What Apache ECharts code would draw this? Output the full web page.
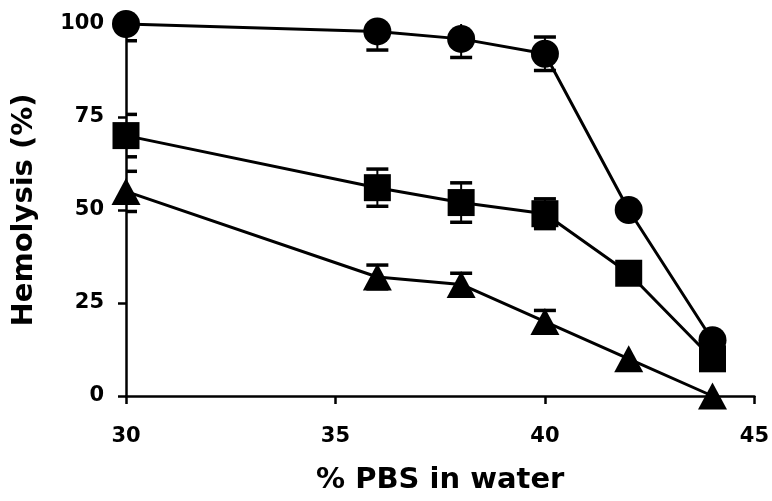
<!DOCTYPE html>
<html>
<head>
<meta charset="utf-8">
<script src="https://cdn.jsdelivr.net/npm/echarts@6/dist/echarts.min.js"></script>
<style>html,body{margin:0;padding:0;background:#fff}#c{width:772px;height:501px}</style>
</head>
<body>
<div id="c"></div>
<script>
var xValues = [30, 36, 38, 40, 42, 44];
var circleY = [100, 98, 96, 92, 50, 15];
var circleErr = [4.5, 5, 5, 4.5, 0, 0];
var squareY = [70, 56, 52, 49, 33, 10];
var squareErr = [5.7, 5, 5.3, 4, 0, 0];
var triangleY = [55, 32, 30, 20, 10, 0];
var triangleErr = [5.4, 3.2, 3, 3, 0, 0];
var xTicks = [30, 35, 40, 45];
var yTicks = [0, 25, 50, 75, 100];

function pts(ys) { return xValues.map(function (x, i) { return [x, ys[i]]; }); }
function errPts(ys, es) {
  var out = [];
  xValues.forEach(function (x, i) { if (es[i] > 0) out.push([x, ys[i] - es[i], ys[i] + es[i]]); });
  return out;
}
function errSeries(ys, es) {
  return {
    type: 'custom', clip: true, z: 1,
    data: errPts(ys, es),
    renderItem: function (params, api) {
      var lo = api.coord([api.value(0), api.value(1)]);
      var hi = api.coord([api.value(0), api.value(2)]);
      var w = 11;
      var st = { stroke: '#000', lineWidth: 2 };
      var cap = { stroke: '#000', lineWidth: 3.5 };
      return {
        type: 'group', children: [
          { type: 'line', shape: { x1: lo[0], y1: lo[1], x2: hi[0], y2: hi[1] }, style: st },
          { type: 'line', shape: { x1: lo[0] - w, y1: lo[1], x2: lo[0] + w, y2: lo[1] }, style: cap },
          { type: 'line', shape: { x1: hi[0] - w, y1: hi[1], x2: hi[0] + w, y2: hi[1] }, style: cap }
        ]
      };
    }
  };
}
function lineSeries(ys, sym, size) {
  return {
    type: 'line', data: pts(ys), symbol: sym, symbolSize: size, z: 3,
    lineStyle: { color: '#000', width: 3 },
    itemStyle: { color: '#000', borderWidth: 0 },
    showSymbol: true, animation: false, clip: false
  };
}
var chart = echarts.init(document.getElementById('c'), null, { renderer: 'canvas' });
var fontFam = '"DejaVu Sans", sans-serif';
chart.setOption({
  animation: false,
  backgroundColor: '#fff',
  grid: { left: 126, right: 15, top: 24, bottom: 105 },
  xAxis: {
    type: 'value', min: xTicks[0], max: xTicks[xTicks.length - 1], interval: 5,
    name: '% PBS in water', nameLocation: 'middle', nameGap: 70,
    nameTextStyle: { fontFamily: fontFam, fontWeight: 'bold', fontSize: 29, color: '#000' },
    splitLine: { show: false },
    axisLine: { lineStyle: { color: '#000', width: 2.5 } },
    axisTick: { length: 8, lineStyle: { color: '#000', width: 2.5 } },
    axisLabel: { fontFamily: fontFam, fontWeight: 'bold', fontSize: 21, color: '#000', margin: 30 }
  },
  yAxis: {
    type: 'value', min: yTicks[0], max: yTicks[yTicks.length - 1], interval: 25,
    name: 'Hemolysis (%)', nameLocation: 'middle', nameGap: 87,
    nameTextStyle: { fontFamily: fontFam, fontWeight: 'bold', fontSize: 29, color: '#000' },
    splitLine: { show: false },
    axisLine: { show: true, lineStyle: { color: '#000', width: 2.5 } },
    axisTick: { show: true, length: 8, lineStyle: { color: '#000', width: 2.5 } },
    axisLabel: { fontFamily: fontFam, fontWeight: 'bold', fontSize: 21, color: '#000', margin: 22 }
  },
  series: [
    errSeries(circleY, circleErr),
    errSeries(squareY, squareErr),
    errSeries(triangleY, triangleErr),
    lineSeries(circleY, 'circle', 28),
    lineSeries(squareY, 'rect', 27),
    lineSeries(triangleY, 'triangle', [29, 27])
  ]
});
</script>
</body>
</html>
